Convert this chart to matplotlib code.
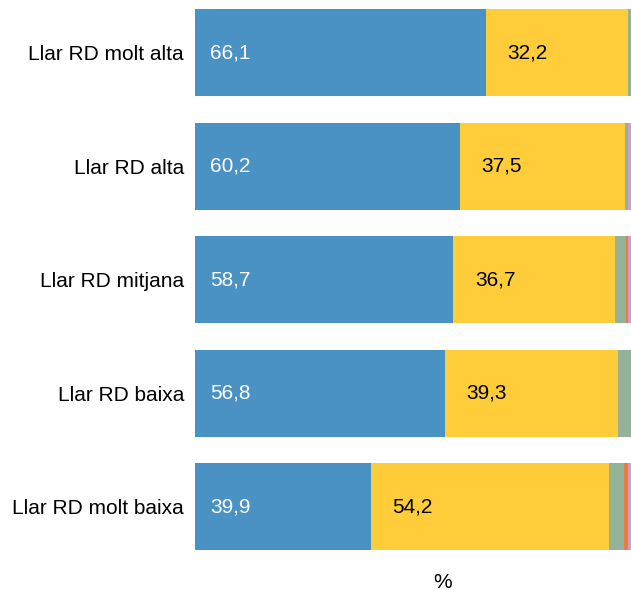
import matplotlib
matplotlib.use("Agg")
import matplotlib.pyplot as plt

plt.rcParams['font.family'] = ['Liberation Sans', 'DejaVu Sans']

categories = ['Llar RD molt alta', 'Llar RD alta', 'Llar RD mitjana', 'Llar RD baixa', 'Llar RD molt baixa']
blue = [66.1, 60.2, 58.7, 56.8, 39.9]
yellow = [32.2, 37.5, 36.7, 39.3, 54.2]
green = [1.0, 0.8, 2.6, 3.5, 3.4]
orange = [0.2, 0.0, 0.3, 0.2, 0.9]
lilac = [0.5, 1.5, 1.7, 0.2, 1.6]

series = [blue, yellow, green, orange, lilac]
colors = ['#4a92c4', '#ffcc3a', '#93b297', '#ee7a3e', '#caa0cf']

fig = plt.figure(figsize=(6.31, 5.90), dpi=100)
# axes reach a bit past the right edge, like the original crop
ax = fig.add_axes([195 / 631, 1 - 563.7 / 590, 440 / 631, 568 / 590])

y = list(range(len(categories)))
left = [0] * len(categories)
for vals, c in zip(series, colors):
    ax.barh(y, vals, left=left, height=0.766, color=c, edgecolor='none')
    left = [l + v for l, v in zip(left, vals)]

for i in y:
    ax.annotate(f'{blue[i]:.1f}'.replace('.', ','), (0, i), xytext=(11, 0),
                textcoords='offset points', va='center', ha='left', color='white', fontsize=15)
    ax.annotate(f'{yellow[i]:.1f}'.replace('.', ','), (blue[i], i), xytext=(15.5, 0),
                textcoords='offset points', va='center', ha='left', color='black', fontsize=15)

ax.set_xlim(0, 100)
ax.set_ylim(4.5, -0.5)
ax.set_yticks(y)
ax.set_yticklabels(categories, fontsize=15)
ax.tick_params(axis='y', length=0, pad=8)
ax.set_xticks([])
for s in ax.spines.values():
    s.set_visible(False)

fig.text(443 / 631, 1 - 582 / 590, '%', ha='center', va='center', fontsize=15)

fig.savefig('out.png', dpi=100)
